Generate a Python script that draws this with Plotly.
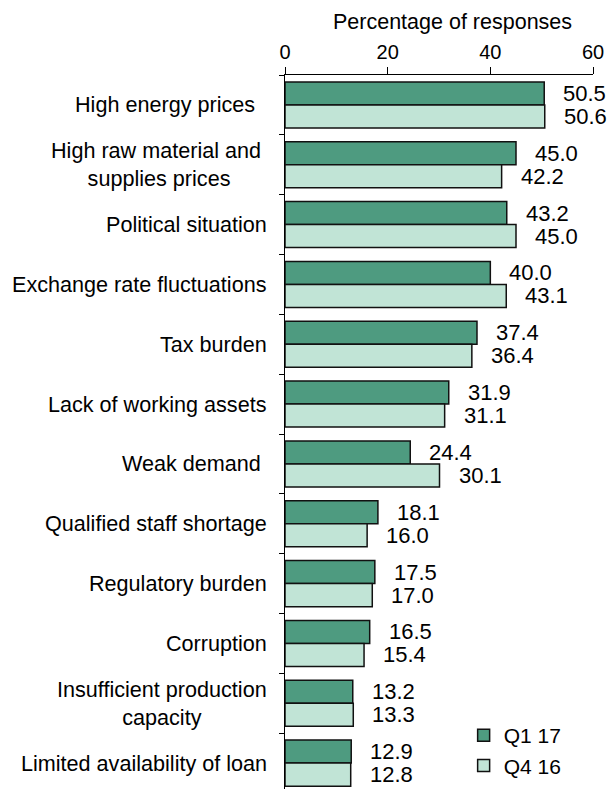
import plotly.graph_objects as go

categories = [
    "High energy prices",
    "High raw material and<br>supplies prices",
    "Political situation",
    "Exchange rate fluctuations",
    "Tax burden",
    "Lack of working assets",
    "Weak demand",
    "Qualified staff shortage",
    "Regulatory burden",
    "Corruption",
    "Insufficient production<br>capacity",
    "Limited availability of loan",
]
# labels as displayed (original labels carry trailing spaces)
category_labels = [
    "High energy prices\u00a0\u00a0",
    "High raw material and\u00a0<br>supplies prices",
    "Political situation",
    "Exchange rate fluctuations",
    "Tax burden",
    "Lack of working assets",
    "Weak demand\u00a0",
    "Qualified staff shortage",
    "Regulatory burden",
    "Corruption",
    "Insufficient production<br>capacity",
    "Limited availability of loan",
]
series_names = ["Q1 17", "Q4 16"]
q1_17 = [50.5, 45.0, 43.2, 40.0, 37.4, 31.9, 24.4, 18.1, 17.5, 16.5, 13.2, 12.9]
q4_16 = [50.6, 42.2, 45.0, 43.1, 36.4, 31.1, 30.1, 16.0, 17.0, 15.4, 13.3, 12.8]
x_ticks = [0, 20, 40, 60]
x_title = "Percentage of responses"

FONT = "Arial, Liberation Sans, sans-serif"
colors = ["#4e9b80", "#c1e4d6"]

fig = go.Figure()
for i, (name, vals) in enumerate(zip(series_names, [q1_17, q4_16])):
    fig.add_trace(go.Bar(
        y=categories, x=vals, orientation="h", name=name,
        marker=dict(color=colors[i], line=dict(color="#111111", width=1.5)),
        legendgroup=name, hoverinfo="skip",
    ))

annotations = []
# category labels (centered multi-line, right-aligned block)
for cat, lab in zip(categories, category_labels):
    annotations.append(dict(
        x=0, xref="paper", y=cat, yref="y", text=lab, showarrow=False,
        xanchor="right", yanchor="middle", align="center", xshift=-16,
        font=dict(family=FONT, size=21.6, color="#000000"),
    ))
# value labels
for vals, ys in [(q1_17, 11.5), (q4_16, -11.5)]:
    for cat, v in zip(categories, vals):
        annotations.append(dict(
            x=v, xref="x", y=cat, yref="y", text=f"{v:.1f}", showarrow=False,
            xanchor="left", yanchor="middle", xshift=17, yshift=ys,
            font=dict(family=FONT, size=22, color="#000000"),
        ))
# axis title
annotations.append(dict(
    x=(452 - 285) / 308, xref="paper", y=1, yref="paper", text=x_title,
    showarrow=False, xanchor="center", yanchor="middle", yshift=53,
    font=dict(family=FONT, size=21.5, color="#000000"),
))

fig.update_layout(
    width=609, height=789,
    margin=dict(l=285, r=16, t=75, b=0, pad=0),
    paper_bgcolor="white", plot_bgcolor="white",
    barmode="group", bargap=0.23, bargroupgap=0,
    font=dict(family=FONT, size=20, color="#000000"),
    showlegend=True,
    legend=dict(
        x=0.58, y=0.1036, xanchor="left", yanchor="top",
        bgcolor="rgba(0,0,0,0)", font=dict(family=FONT, size=21),
        tracegroupgap=6, traceorder="normal",
    ),
    annotations=annotations,
    xaxis=dict(
        side="top", range=[0, 60], tickvals=x_ticks, ticks="outside",
        ticklen=7, tickwidth=1, tickcolor="#000000", showline=True,
        linecolor="#000000", linewidth=1, showgrid=False, zeroline=False,
        tickfont=dict(family=FONT, size=20), fixedrange=True,
    ),
    yaxis=dict(
        categoryorder="array", categoryarray=categories,
        range=[11.433, -0.5], tickson="boundaries", ticks="outside",
        ticklen=5, tickwidth=1, tickcolor="#000000", showticklabels=False,
        showline=True, linecolor="#000000", linewidth=1, showgrid=False,
        zeroline=False, fixedrange=True,
    ),
)

fig.write_html(
    "out.html",
    config={"displayModeBar": False, "staticPlot": True},
    post_script="document.body.style.margin='0';document.body.style.overflow='hidden';",
)
